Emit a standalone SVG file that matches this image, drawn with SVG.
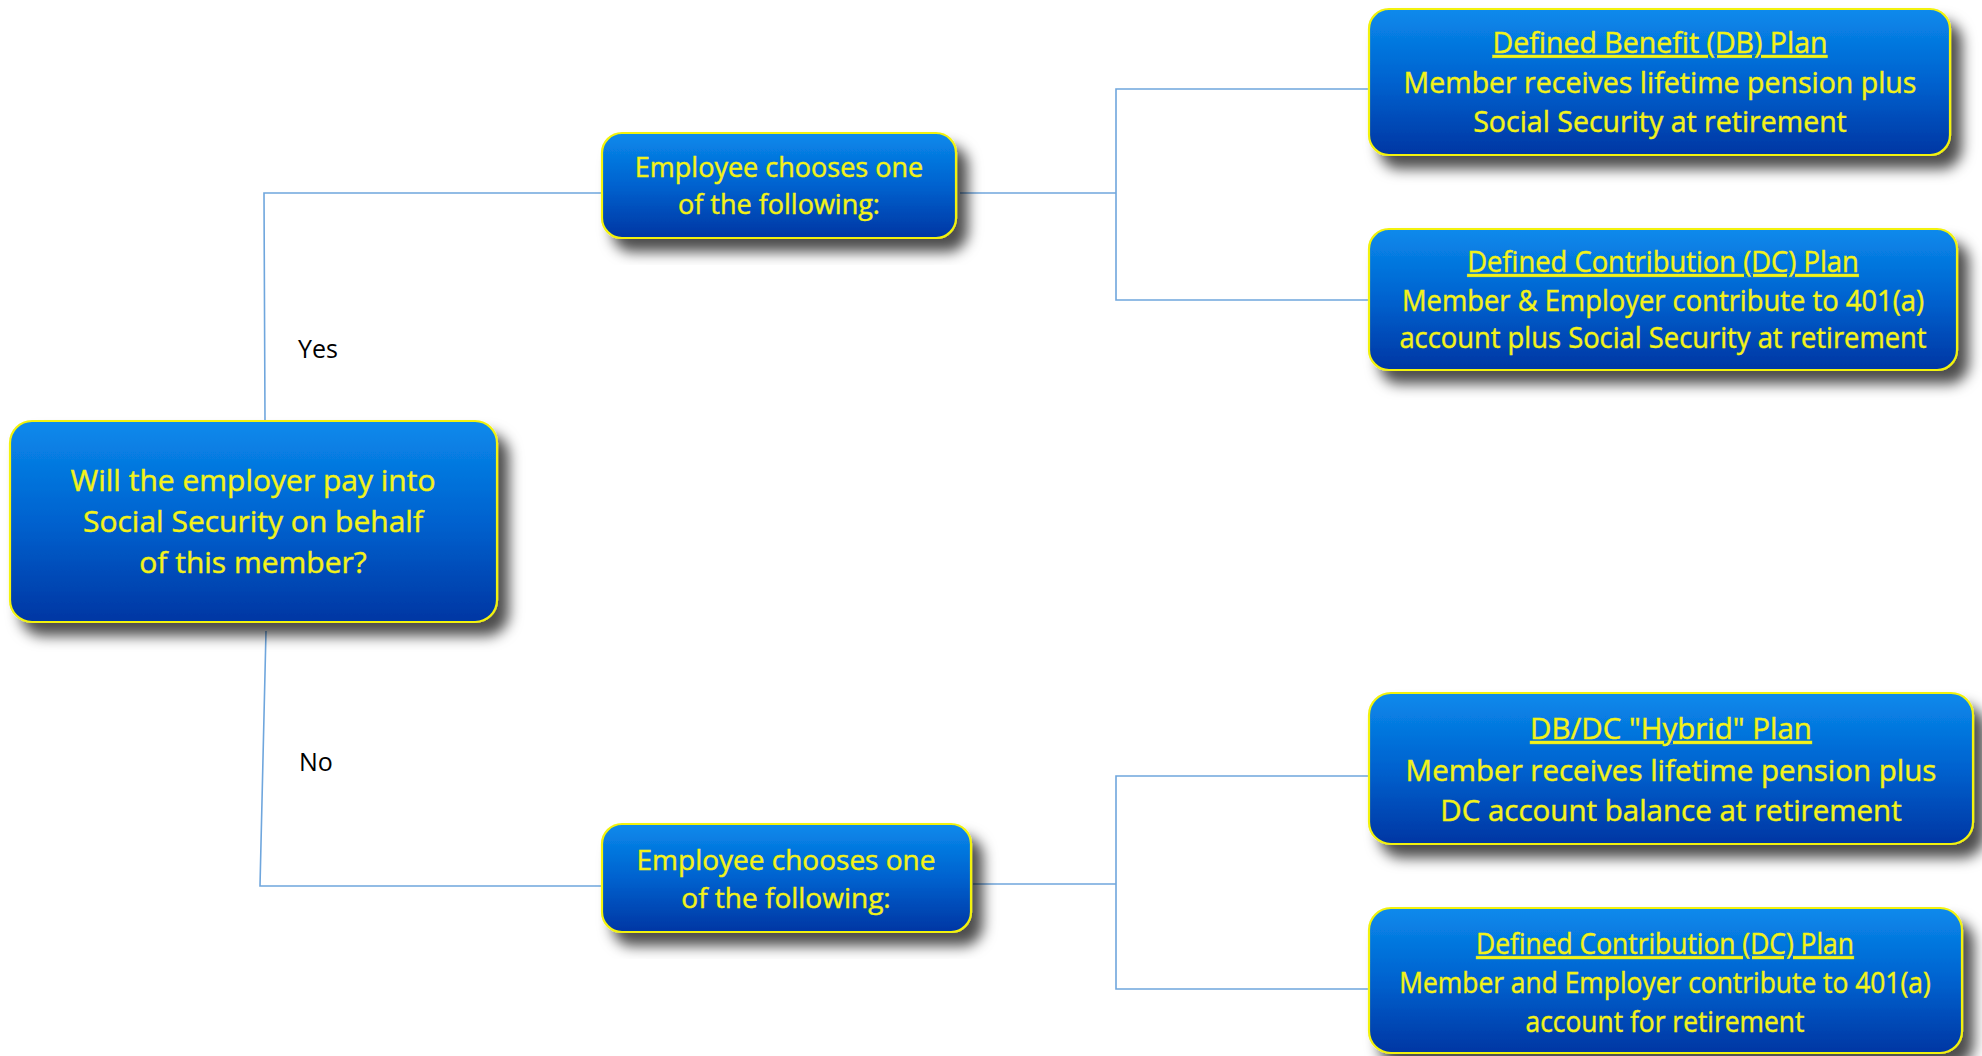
<svg xmlns="http://www.w3.org/2000/svg" width="1982" height="1056" viewBox="0 0 1982 1056">
<defs>
<linearGradient id="g" x1="0" y1="0" x2="0" y2="1">
<stop offset="0" stop-color="#0a8aec"/>
<stop offset="0.5" stop-color="#0062cf"/>
<stop offset="1" stop-color="#0036a3"/>
</linearGradient>
<filter id="sh" x="-10%" y="-15%" width="125%" height="140%">
<feGaussianBlur in="SourceAlpha" stdDeviation="7"/>
<feOffset dx="11" dy="13" result="b"/>
<feFlood flood-color="#000" flood-opacity="0.7"/>
<feComposite in2="b" operator="in"/>
<feMerge><feMergeNode/><feMergeNode in="SourceGraphic"/></feMerge>
</filter>
</defs>
<style>
.box{fill:url(#g);stroke:#f2f20a;stroke-width:2.2;filter:url(#sh)}
.t{font-family:"Open Sans","Noto Sans",sans-serif;fill:#f4f41c;stroke:#eeee10;stroke-width:0.45;text-anchor:middle}
.u{text-decoration:underline}
.c{fill:none;stroke:#6fa6dd;stroke-width:1.6}
.lbl{font-family:"Open Sans","Noto Sans",sans-serif;font-size:25px;fill:#000}
</style>
<rect width="1982" height="1056" fill="#fff"/>
<g id="connectors">
<polyline class="c" points="265,421 264,193 602,193"/>
<polyline class="c" points="266,631 260,886 602,886"/>
<line class="c" x1="960" y1="193" x2="1116" y2="193"/>
<polyline class="c" points="1369,89 1116,89 1116,300 1369,300"/>
<line class="c" x1="973" y1="884" x2="1116" y2="884"/>
<polyline class="c" points="1369,776 1116,776 1116,989 1369,989"/>
</g>
<g id="label-yes"><text class="lbl" x="298" y="358">Yes</text></g>
<g id="label-no"><text class="lbl" x="299" y="771">No</text></g>
<g id="n-main">
<rect class="box" x="10" y="421" width="487" height="201" rx="22"/>
<text class="t" font-size="30" x="253" y="491">Will the employer pay into</text>
<text class="t" font-size="30" x="253" y="532">Social Security on behalf</text>
<text class="t" font-size="30" x="253" y="573">of this member?</text>
</g>
<g id="n-yes">
<rect class="box" x="602" y="133" width="354" height="105" rx="20"/>
<text class="t" font-size="27" x="779" y="177">Employee chooses one</text>
<text class="t" font-size="27" x="779" y="214">of the following:</text>
</g>
<g id="n-no">
<rect class="box" x="602" y="824" width="369" height="108" rx="20"/>
<text class="t" font-size="28" x="786" y="870">Employee chooses one</text>
<text class="t" font-size="28" x="786" y="908">of the following:</text>
</g>
<g id="n-db">
<rect class="box" x="1369" y="9" width="581" height="146" rx="20"/>
<text class="t u" font-size="28.5" x="1660" y="53">Defined Benefit (DB) Plan</text>
<text class="t" font-size="28.5" x="1660" y="93">Member receives lifetime pension plus</text>
<text class="t" font-size="28.5" x="1660" y="132">Social Security at retirement</text>
</g>
<g id="n-dc1">
<rect class="box" x="1369" y="229" width="588" height="141" rx="20"/>
<g transform="translate(1663 0) scale(0.96 1) translate(-1663 0)">
<text class="t u" font-size="28.5" x="1663" y="272">Defined Contribution (DC) Plan</text>
<text class="t" font-size="28.5" x="1663" y="311">Member &amp; Employer contribute to 401(a)</text>
<text class="t" font-size="28.5" x="1663" y="348">account plus Social Security at retirement</text>
</g>
</g>
<g id="n-hybrid">
<rect class="box" x="1369" y="693" width="604" height="151" rx="22"/>
<text class="t u" font-size="29.5" x="1671" y="739">DB/DC "Hybrid" Plan</text>
<text class="t" font-size="29.5" x="1671" y="781">Member receives lifetime pension plus</text>
<text class="t" font-size="29.5" x="1671" y="821">DC account balance at retirement</text>
</g>
<g id="n-dc2">
<rect class="box" x="1369" y="908" width="593" height="145" rx="22"/>
<g transform="translate(1665 0) scale(0.91 1) translate(-1665 0)">
<text class="t u" font-size="29" x="1665" y="954">Defined Contribution (DC) Plan</text>
<text class="t" font-size="29" x="1665" y="993">Member and Employer contribute to 401(a)</text>
<text class="t" font-size="29" x="1665" y="1032">account for retirement</text>
</g>
</g>
</svg>
